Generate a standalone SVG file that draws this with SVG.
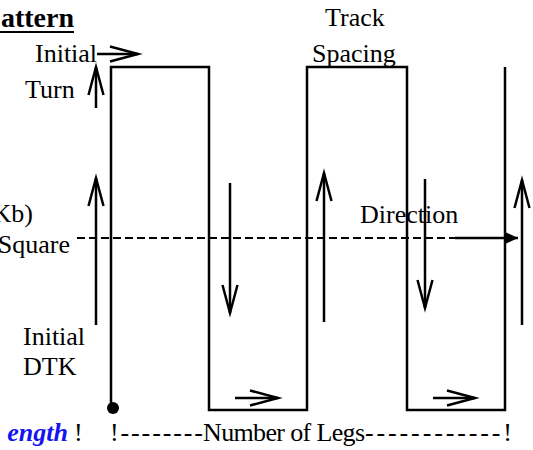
<svg xmlns="http://www.w3.org/2000/svg" width="533" height="450" viewBox="0 0 533 450">
  <style>
    .track { fill: none; stroke: #000; stroke-width: 2.5; }
    .arrow { fill: none; stroke: #000; stroke-width: 2.5; marker-end: url(#open); }
    .dash { fill: none; stroke: #000; stroke-width: 2; stroke-dasharray: 8 4; }
  </style>
  <defs>
    <marker id="open" markerUnits="userSpaceOnUse" viewBox="-32 -10 34 20" refX="0" refY="0" markerWidth="34" markerHeight="20" orient="auto" overflow="visible">
      <path d="M-28,-7.5 L0,0 L-28,7.5" fill="none" stroke="#000" stroke-width="2.5"/>
    </marker>
    <marker id="solid" markerUnits="userSpaceOnUse" viewBox="-16 -8 18 16" refX="0" refY="0" markerWidth="18" markerHeight="16" orient="auto" overflow="visible">
      <path d="M-14,-6.5 L0,0 L-14,6.5 Z" fill="#000"/>
    </marker>
  </defs>

  <g id="title">
    <text font-family="Liberation Serif" font-size="28" font-weight="bold" x="74" y="27" text-anchor="end">attern</text>
    <line x1="0" y1="32" x2="74" y2="32" stroke="#000" stroke-width="2"/>
  </g>

  <g id="search-path">
    <path class="track" d="M111,408 V67 H209 V410 H307 V67 H407 V410 H505 V67"/>
    <circle cx="113" cy="408" r="6" fill="#000"/>
  </g>

  <g id="labels" font-size="26">
    <text font-family="Liberation Serif" x="35" y="62">Initial</text>
    <text font-family="Liberation Serif" x="25" y="98">Turn</text>
    <text font-family="Liberation Serif" x="325" y="26">Track</text>
    <text font-family="Liberation Serif" x="312" y="62">Spacing</text>
    <text font-family="Liberation Serif" x="33" y="222" text-anchor="end">Kb)</text>
    <text font-family="Liberation Serif" x="70" y="253" text-anchor="end">Square</text>
    <text font-family="Liberation Serif" x="360" y="223">Direction</text>
    <text font-family="Liberation Serif" x="23" y="345">Initial</text>
    <text font-family="Liberation Serif" x="23" y="375">DTK</text>
    <text font-family="Liberation Serif" font-weight="bold" font-style="italic" fill="#1414f0" x="68" y="441" text-anchor="end">ength</text>
    <text font-family="Liberation Serif" x="74" y="441">!</text>
    <text font-family="Liberation Serif" x="110" y="441" textLength="93">!--------</text>
    <text font-family="Liberation Serif" x="203" y="441" textLength="162">Number of Legs</text>
    <text font-family="Liberation Serif" x="365" y="441" textLength="147">------------!</text>
  </g>

  <g id="connectors">
    <line class="arrow" x1="97" y1="54" x2="138" y2="54"/>
    <line class="arrow" x1="96" y1="108" x2="96" y2="67"/>
    <line class="arrow" x1="96" y1="325" x2="96" y2="178"/>
    <line class="arrow" x1="230" y1="183" x2="230" y2="313"/>
    <line class="arrow" x1="324" y1="322" x2="324" y2="173"/>
    <line class="arrow" x1="425" y1="179" x2="425" y2="308"/>
    <line class="arrow" x1="522" y1="325" x2="522" y2="180"/>
    <line class="arrow" x1="235" y1="398" x2="278" y2="398"/>
    <line class="arrow" x1="433" y1="398" x2="475" y2="398"/>
    <line class="dash" x1="77" y1="238" x2="455" y2="238"/>
    <line x1="455" y1="238" x2="518" y2="238" stroke="#000" stroke-width="2.5" marker-end="url(#solid)"/>
  </g>
</svg>
